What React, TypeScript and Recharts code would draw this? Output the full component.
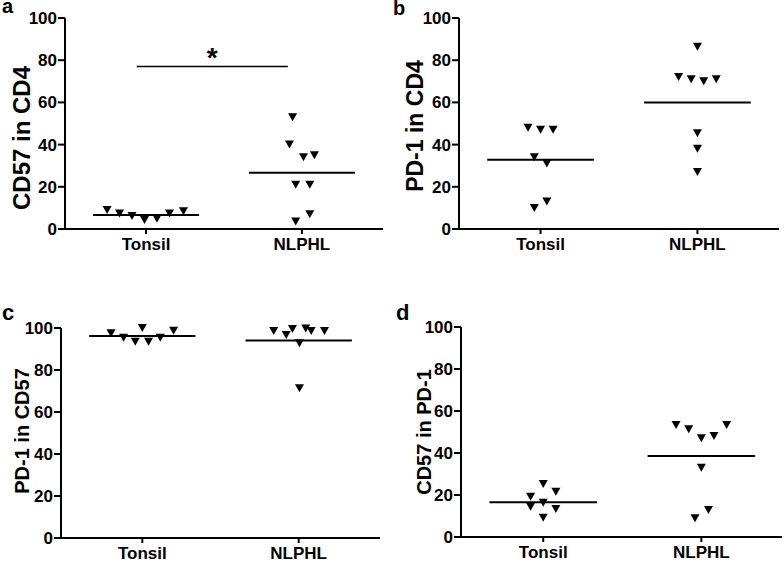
import React from "react";
import {
  ScatterChart,
  Scatter,
  XAxis,
  YAxis,
  ReferenceLine,
} from "recharts";

const groups = ["Tonsil", "NLPHL"];
const yTicks = [0, 20, 40, 60, 80, 100];

// a: CD57 in CD4
const cd57Cd4Tonsil = [9, 7.4, 6.2, 4.3, 4.9, 7.4, 8.4];
const cd57Cd4TonsilJitter = [-0.25, -0.17, -0.09, -0.01, 0.07, 0.15, 0.24];
const cd57Cd4Nlphl = [53, 40, 34, 35, 21, 21, 7, 3.5];
const cd57Cd4NlphlJitter = [-0.06, -0.08, 0.01, 0.08, -0.04, 0.05, 0.05, -0.04];
const cd57Cd4Means = [6.6, 26.6];

// b: PD-1 in CD4
const pd1Cd4Tonsil = [48, 47, 47, 34, 31, 10, 13];
const pd1Cd4TonsilJitter = [-0.08, 0, 0.08, -0.04, 0.04, -0.04, 0.04];
const pd1Cd4Nlphl = [86.4, 72, 71, 70, 71, 45.4, 38, 27];
const pd1Cd4NlphlJitter = [0, -0.12, -0.04, 0.04, 0.12, 0, 0, 0];
const pd1Cd4Means = [32.8, 60];

// c: PD-1 in CD57
const pd1Cd57Tonsil = [97.5, 95.4, 93.5, 100, 93.5, 95.4, 98.7];
const pd1Cd57TonsilJitter = [-0.2, -0.12, -0.045, 0, 0.04, 0.115, 0.2];
const pd1Cd57Nlphl = [98.6, 96.7, 99.5, 92.7, 99.8, 98.6, 98.6, 71.3];
const pd1Cd57NlphlJitter = [-0.16, -0.08, -0.04, 0.005, 0.045, 0.08, 0.165, 0.005];
const pd1Cd57Means = [96.2, 94];

// d: CD57 in PD-1
const cd57Pd1Tonsil = [19.2, 25.2, 21.6, 14.4, 16.3, 13.3, 9.2];
const cd57Pd1TonsilJitter = [-0.08, 0, 0.08, -0.08, 0, 0.08, 0];
const cd57Pd1Nlphl = [53.3, 51.3, 47, 48.1, 53.3, 33, 8.9, 12.9];
const cd57Pd1NlphlJitter = [-0.16, -0.08, 0, 0.08, 0.16, 0, -0.04, 0.045];
const cd57Pd1Means = [16.6, 38.6];

const FONT = "'Liberation Sans', Arial, sans-serif";

function toPoints(values: number[], jitter: number[], group: number) {
  return values.map((y, i) => ({ x: group + jitter[i], y }));
}

function Triangle(props: any) {
  const { cx, cy } = props;
  if (cx == null || cy == null) return null;
  return (
    <path
      d={`M${cx - 4.5},${cy - 4} L${cx + 4.5},${cy - 4} L${cx},${cy + 4} Z`}
      fill="#000"
    />
  );
}

interface PanelProps {
  left: number;
  top: number;
  height: number;
  plot: { l: number; r: number; t: number; b: number };
  xDomain: [number, number];
  tonsil: { x: number; y: number }[];
  nlphl: { x: number; y: number }[];
  means: number[];
  signif?: { from: number; to: number; y: number };
}

function Panel(p: PanelProps) {
  const xh = 24;
  const margin = {
    top: p.plot.t - p.top,
    right: p.left + 392 - p.plot.r,
    bottom: p.height - (p.plot.b - p.top) - xh,
    left: 0,
  };
  const axisStyle = { stroke: "#000", strokeWidth: 2 };
  const tickStyle = { fontSize: 17, fontWeight: "bold", fill: "#000", fontFamily: FONT };
  return (
    <div style={{ position: "absolute", left: p.left, top: p.top }}>
      <ScatterChart width={392} height={p.height} margin={margin}>
        <XAxis
          type="number"
          dataKey="x"
          domain={p.xDomain}
          ticks={[0, 1]}
          tickFormatter={(v) => groups[Math.round(v)]}
          axisLine={axisStyle}
          tickLine={axisStyle}
          tickSize={5}
          tickMargin={4}
          tick={tickStyle}
          height={xh}
          allowDataOverflow
        />
        <YAxis
          type="number"
          dataKey="y"
          domain={[0, 100]}
          ticks={yTicks}
          axisLine={axisStyle}
          tickLine={axisStyle}
          tickSize={7}
          tickMargin={1}
          tick={tickStyle}
          width={p.plot.l - p.left}
        />
        {p.means.map((m, i) => (
          <ReferenceLine
            key={i}
            segment={[
              { x: i - 0.34, y: m },
              { x: i + 0.34, y: m },
            ]}
            stroke="#000"
            strokeWidth={2}
          />
        ))}
        {p.signif && (
          <ReferenceLine
            segment={[
              { x: p.signif.from, y: p.signif.y },
              { x: p.signif.to, y: p.signif.y },
            ]}
            stroke="#000"
            strokeWidth={1.5}
            label={{
              value: "*",
              position: "top",
              offset: 0,
              fontSize: 28,
              fontWeight: "bold",
              fill: "#000",
              fontFamily: FONT,
            }}
          />
        )}
        <Scatter data={p.tonsil} shape={<Triangle />} isAnimationActive={false} />
        <Scatter data={p.nlphl} shape={<Triangle />} isAnimationActive={false} />
      </ScatterChart>
    </div>
  );
}

function AxisTitle({ text, x, y, size }: { text: string; x: number; y: number; size: number }) {
  return (
    <text
      x={x}
      y={y}
      transform={`rotate(-90, ${x}, ${y})`}
      textAnchor="middle"
      dominantBaseline="central"
      fontSize={size}
    >
      {text}
    </text>
  );
}

export default function App() {
  return (
    <div
      style={{
        position: "absolute",
        left: 0,
        top: 0,
        width: 784,
        height: 562,
        background: "#fff",
        fontFamily: FONT,
      }}
    >
      <Panel
        left={0}
        top={0}
        height={262}
        plot={{ l: 65, r: 383, t: 18, b: 229 }}
        xDomain={[-0.52, 1.52]}
        tonsil={toPoints(cd57Cd4Tonsil, cd57Cd4TonsilJitter, 0)}
        nlphl={toPoints(cd57Cd4Nlphl, cd57Cd4NlphlJitter, 1)}
        means={cd57Cd4Means}
        signif={{ from: -0.06, to: 0.91, y: 77 }}
      />
      <Panel
        left={392}
        top={0}
        height={262}
        plot={{ l: 459, r: 779, t: 18, b: 229 }}
        xDomain={[-0.52, 1.52]}
        tonsil={toPoints(pd1Cd4Tonsil, pd1Cd4TonsilJitter, 0)}
        nlphl={toPoints(pd1Cd4Nlphl, pd1Cd4NlphlJitter, 1)}
        means={pd1Cd4Means}
      />
      <Panel
        left={0}
        top={290}
        height={272}
        plot={{ l: 61, r: 380, t: 328, b: 538 }}
        xDomain={[-0.52, 1.52]}
        tonsil={toPoints(pd1Cd57Tonsil, pd1Cd57TonsilJitter, 0)}
        nlphl={toPoints(pd1Cd57Nlphl, pd1Cd57NlphlJitter, 1)}
        means={pd1Cd57Means}
      />
      <Panel
        left={392}
        top={290}
        height={272}
        plot={{ l: 461, r: 782, t: 327, b: 537 }}
        xDomain={[-0.52, 1.51]}
        tonsil={toPoints(cd57Pd1Tonsil, cd57Pd1TonsilJitter, 0)}
        nlphl={toPoints(cd57Pd1Nlphl, cd57Pd1NlphlJitter, 1)}
        means={cd57Pd1Means}
      />
      <svg
        width={784}
        height={562}
        style={{ position: "absolute", left: 0, top: 0, pointerEvents: "none" }}
      >
        <g fontFamily={FONT} fontWeight="bold" fill="#000">
          <text x={2} y={13} fontSize={20}>a</text>
          <text x={393} y={15} fontSize={20}>b</text>
          <text x={2} y={320} fontSize={22}>c</text>
          <text x={396} y={320} fontSize={22}>d</text>
          <AxisTitle text="CD57 in CD4" x={21} y={138} size={24} />
          <AxisTitle text="PD-1 in CD4" x={415} y={126} size={23} />
          <AxisTitle text="PD-1 in CD57" x={22} y={431} size={20} />
          <AxisTitle text="CD57 in PD-1" x={424} y={432} size={20} />
        </g>
      </svg>
    </div>
  );
}
